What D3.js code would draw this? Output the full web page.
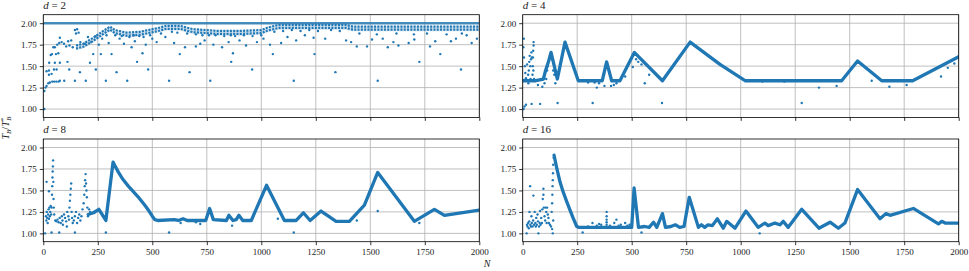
<!DOCTYPE html>
<html>
<head>
<meta charset="utf-8">
<script src="https://cdn.jsdelivr.net/npm/d3@7/dist/d3.min.js"></script>
<style>
  body { margin: 0; background: #fff; }
  text { font-family: "Liberation Serif", "DejaVu Serif", serif; fill: #222; }
</style>
</head>
<body>
<script>
const xTicks = [0, 250, 500, 750, 1000, 1250, 1500, 1750, 2000];
const yTicks = [1.00, 1.25, 1.50, 1.75, 2.00];
const dims = ['2', '4', '8', '16'];

// d = 2 : dense band near the top plus scattered points
const d2Ref = 2.0;
const d2BandN = [150, 183, 229, 275, 306, 328, 382, 443, 519, 565, 626, 687, 748, 800, 900, 1000, 1030, 1080, 1200, 1300, 1390, 1420, 1600, 1800, 2000];
const d2BandV = [1.72, 1.74, 1.81, 1.89, 1.94, 1.90, 1.87, 1.88, 1.92, 1.95, 1.95, 1.91, 1.90, 1.89, 1.89, 1.90, 1.93, 1.96, 1.96, 1.96, 1.96, 1.94, 1.94, 1.94, 1.94];
const d2Pts = [
  [5, 1.00], [5, 1.21], [10, 1.25], [15, 1.27], [23, 1.30], [30, 1.31], [41, 1.32], [50, 1.32], [60, 1.32], [70, 1.32],
  [15, 1.44], [26, 1.45], [27, 1.54], [34, 1.63], [40, 1.64], [26, 1.40], [38, 1.41], [49, 1.46], [61, 1.46], [53, 1.54],
  [58, 1.64], [69, 1.65], [76, 1.54], [76, 1.33], [96, 1.33], [111, 1.55], [119, 1.46], [145, 1.33], [168, 1.43], [195, 1.33],
  [214, 1.54], [229, 1.64], [241, 1.46], [264, 1.64], [287, 1.33], [313, 1.64], [336, 1.43], [385, 1.33], [430, 1.55], [455, 1.65],
  [481, 1.46], [577, 1.33], [626, 1.64], [671, 1.43], [766, 1.33], [862, 1.55], [870, 1.65], [958, 1.46], [1053, 1.64], [1149, 1.33],
  [1244, 1.64], [1340, 1.43], [1534, 1.33], [1725, 1.55], [1821, 1.64], [1916, 1.46],
  [46, 1.72], [53, 1.72], [64, 1.75], [73, 1.77], [76, 1.83], [84, 1.78], [95, 1.76], [105, 1.73], [114, 1.79], [120, 1.74],
  [128, 1.80], [135, 1.72], [145, 1.92], [150, 1.88], [155, 1.93], [162, 1.89], [170, 1.78], [190, 1.76], [205, 1.84], [220, 1.78],
  [240, 1.85], [255, 1.75], [270, 1.82], [290, 1.86], [300, 1.77], [350, 1.82], [370, 1.76], [405, 1.72], [420, 1.79], [470, 1.75],
  [500, 1.82], [520, 1.78], [560, 1.84], [600, 1.77], [650, 1.72], [700, 1.73], [720, 1.76], [740, 1.80], [780, 1.75], [820, 1.72],
  [850, 1.78], [900, 1.80], [930, 1.74], [980, 1.78], [1010, 1.82], [1040, 1.75], [1091, 1.77], [1120, 1.84], [1160, 1.80], [1200, 1.86],
  [1240, 1.83], [1293, 1.82], [1389, 1.80], [1412, 1.78], [1438, 1.73], [1485, 1.73], [1508, 1.81], [1557, 1.82], [1580, 1.72], [1606, 1.78],
  [1629, 1.74], [1676, 1.77], [1702, 1.81], [1774, 1.73], [1798, 1.79], [1870, 1.79], [1893, 1.82], [1942, 1.86], [1965, 1.77], [1989, 1.82],
  [1450, 1.88], [1530, 1.87], [1620, 1.88], [1700, 1.87], [1760, 1.88], [1850, 1.87], [1920, 1.88], [1000, 1.86], [880, 1.85], [760, 1.86],
  [330, 1.86], [360, 1.85], [395, 1.84], [415, 1.86], [440, 1.85], [460, 1.84], [490, 1.86], [540, 1.88], [590, 1.90], [615, 1.89],
  [660, 1.88], [700, 1.87], [730, 1.86], [790, 1.86], [830, 1.85], [860, 1.86], [920, 1.86], [960, 1.85], [1060, 1.90], [1100, 1.91],
  [1140, 1.92], [1180, 1.91], [1220, 1.92], [1260, 1.91], [1320, 1.92], [1360, 1.91]
];

// d = 4
const d4Curve = [[0, 1.33], [48, 1.33], [60, 1.33], [95, 1.35], [105, 1.45], [118, 1.55], [130, 1.66], [159, 1.35], [194, 1.78], [255, 1.33], [365, 1.33],
  [385, 1.55], [408, 1.33], [446, 1.33], [512, 1.66], [641, 1.33], [768, 1.78], [905, 1.52], [1020, 1.33], [1463, 1.33],
  [1536, 1.56], [1647, 1.33], [1789, 1.33], [2000, 1.61]];
const d4Pts = [
  [3, 1.72], [5, 1.82], [6, 1.60], [4, 1.00], [8, 1.03], [15, 1.05], [20, 1.33], [25, 1.40], [28, 1.45], [30, 1.55], [32, 1.62],
  [35, 1.50], [38, 1.58], [40, 1.66], [42, 1.60], [20, 1.52], [15, 1.36], [12, 1.42], [10, 1.50], [26, 1.30], [30, 1.33], [36, 1.35],
  [41, 1.06], [45, 1.40], [46, 1.50], [47, 1.60], [48, 1.68], [50, 1.74], [50, 1.78], [49, 1.45], [52, 1.35], [5, 1.33], [15, 1.33],
  [80, 1.06], [70, 1.28], [90, 1.26], [100, 1.30], [108, 1.35], [112, 1.45], [115, 1.50], [120, 1.56], [125, 1.62], [128, 1.64],
  [133, 1.58], [140, 1.45], [145, 1.40], [150, 1.30], [160, 1.07], [321, 1.07], [639, 1.07], [1280, 1.07], [300, 1.31], [330, 1.31],
  [350, 1.30], [340, 1.25], [375, 1.27], [405, 1.27], [418, 1.28], [430, 1.30], [470, 1.38], [505, 1.49], [520, 1.58], [530, 1.55],
  [545, 1.52], [560, 1.30], [580, 1.40], [1100, 1.32], [1200, 1.32], [1359, 1.25], [1440, 1.27], [1601, 1.33], [1682, 1.26],
  [1761, 1.28], [1919, 1.38], [1980, 1.53], [1950, 1.48]
];

// d = 8
const d8Curve = [[206, 1.22], [230, 1.24], [255, 1.28], [287, 1.15], [320, 1.83], [330, 1.78], [345, 1.71], [365, 1.63], [390, 1.55],
  [415, 1.48], [440, 1.41], [465, 1.33], [485, 1.26], [500, 1.20], [512, 1.16], [525, 1.15], [600, 1.16], [620, 1.15], [641, 1.17], [660, 1.15], [745, 1.15], [763, 1.29], [780, 1.16],
  [840, 1.15], [851, 1.21], [870, 1.15], [885, 1.16], [897, 1.21], [915, 1.15], [954, 1.15], [1024, 1.56], [1106, 1.15], [1160, 1.15],
  [1193, 1.24], [1224, 1.15], [1274, 1.26], [1343, 1.14], [1404, 1.14], [1473, 1.33], [1534, 1.71], [1702, 1.14], [1794, 1.28],
  [1840, 1.21], [2000, 1.27]];
const d8Pts = [
  [8, 1.00], [38, 1.01], [73, 1.01], [145, 1.01], [287, 1.01], [577, 1.01], [1149, 1.01], [15, 1.60], [26, 1.49], [12, 1.20],
  [14, 1.15], [16, 1.25], [18, 1.18], [20, 1.12], [22, 1.22], [24, 1.28], [26, 1.17], [28, 1.30], [30, 1.20], [32, 1.25],
  [34, 1.32], [36, 1.22], [38, 1.30], [40, 1.45], [41, 1.55], [42, 1.65], [43, 1.72], [44, 1.78], [45, 1.85], [46, 1.60],
  [47, 1.40], [48, 1.30], [50, 1.22], [55, 1.15], [60, 1.14], [65, 1.16], [70, 1.13], [75, 1.18], [80, 1.12], [85, 1.20],
  [88, 1.15], [90, 1.10], [95, 1.22], [100, 1.18], [105, 1.14], [108, 1.08], [110, 1.25], [115, 1.20], [118, 1.16], [120, 1.30],
  [122, 1.38], [124, 1.45], [126, 1.52], [128, 1.58], [130, 1.25], [132, 1.18], [135, 1.12], [140, 1.15], [145, 1.20], [150, 1.25],
  [155, 1.12], [160, 1.18], [165, 1.22], [170, 1.15], [175, 1.20], [180, 1.28], [185, 1.35], [188, 1.45], [190, 1.55], [192, 1.62],
  [194, 1.69], [196, 1.58], [198, 1.50], [200, 1.42], [202, 1.30], [205, 1.20], [210, 1.28], [215, 1.25], [630, 1.12], [700, 1.13],
  [720, 1.11], [866, 1.09], [1076, 1.17], [1438, 1.15], [1534, 1.26], [1725, 1.12]
];

// d = 16
const d16Curve = [[144, 1.91], [157, 1.75], [171, 1.60], [186, 1.48], [202, 1.37], [217, 1.27], [232, 1.175], [248, 1.08], [258, 1.07],
  [500, 1.07], [511, 1.53], [531, 1.07], [560, 1.08], [580, 1.07], [600, 1.13], [615, 1.07], [641, 1.23], [655, 1.07], [680, 1.08],
  [700, 1.10], [720, 1.07], [740, 1.08], [764, 1.42], [806, 1.07], [820, 1.10], [835, 1.07], [850, 1.10], [870, 1.09], [893, 1.17],
  [920, 1.06], [936, 1.14], [951, 1.11], [974, 1.06], [1024, 1.26], [1080, 1.07], [1111, 1.12], [1126, 1.09], [1157, 1.12],
  [1180, 1.10], [1195, 1.14], [1218, 1.07], [1280, 1.28], [1359, 1.06], [1410, 1.13], [1448, 1.06], [1478, 1.12], [1536, 1.51],
  [1639, 1.17], [1666, 1.23], [1685, 1.21], [1792, 1.29], [1907, 1.11], [1922, 1.14], [1938, 1.12], [2000, 1.12]];
const d16Pts = [
  [18, 1.00], [34, 1.55], [49, 1.44], [72, 1.00], [95, 1.52], [138, 1.00], [31, 1.25], [20, 1.10], [22, 1.08], [25, 1.12],
  [28, 1.06], [30, 1.14], [35, 1.10], [38, 1.08], [40, 1.20], [42, 1.12], [45, 1.08], [48, 1.15], [52, 1.10], [55, 1.25],
  [58, 1.12], [60, 1.08], [62, 1.18], [65, 1.10], [68, 1.22], [70, 1.14], [75, 1.08], [78, 1.12], [80, 1.26], [82, 1.10],
  [85, 1.18], [88, 1.12], [90, 1.28], [92, 1.40], [95, 1.45], [97, 1.30], [100, 1.20], [103, 1.15], [105, 1.30], [108, 1.25],
  [110, 1.12], [112, 1.30], [115, 1.22], [118, 1.18], [120, 1.12], [125, 1.10], [130, 1.08], [133, 1.25], [135, 1.35], [136, 1.45],
  [137, 1.55], [138, 1.62], [139, 1.70], [140, 1.80], [142, 1.88], [140, 1.15], [135, 1.05], [275, 1.01], [545, 1.01], [1087, 1.00],
  [320, 1.12], [350, 1.11], [385, 1.25], [385, 1.20], [385, 1.16], [385, 1.13], [385, 1.10], [420, 1.12], [430, 1.16], [450, 1.10],
  [470, 1.12], [490, 1.10], [300, 1.08], [340, 1.09], [360, 1.10], [400, 1.09], [440, 1.09], [480, 1.09]
];

const blue = '#1f77b4';
const svg = d3.select('body').append('svg').attr('width', 969).attr('height', 271);

const pw = 436, ph = 102.7;
const layout = [
  { x0: 43.3, y0: 14.7 }, { x0: 522.7, y0: 14.7 },
  { x0: 43.3, y0: 139 }, { x0: 522.7, y0: 139 }
];
const curves = [null, d4Curve, d8Curve, d16Curve];
const points = [d2Pts, d4Pts, d8Pts, d16Pts];

dims.forEach((d, i) => {
  const { x0, y0 } = layout[i];
  const x = d3.scaleLinear().domain([0, 2000]).range([x0, x0 + pw]);
  const y = d3.scaleLinear().domain([0.903, 2.099]).range([y0 + ph, y0]);
  const g = svg.append('g');

  g.append('clipPath').attr('id', 'clip' + i)
    .append('rect').attr('x', x0).attr('y', y0).attr('width', pw).attr('height', ph);

  // grid
  g.selectAll('.gx').data(xTicks).enter().append('line')
    .attr('x1', t => x(t)).attr('x2', t => x(t)).attr('y1', y0).attr('y2', y0 + ph)
    .attr('stroke', '#b0b0b0').attr('stroke-width', 0.8);
  g.selectAll('.gy').data(yTicks).enter().append('line')
    .attr('x1', x0).attr('x2', x0 + pw).attr('y1', t => y(t)).attr('y2', t => y(t))
    .attr('stroke', '#b0b0b0').attr('stroke-width', 0.8);

  const plot = g.append('g').attr('clip-path', 'url(#clip' + i + ')');

  if (i === 0) {
    const band = d2BandN.map((n, k) => [n, d2BandV[k]]);
    plot.append('line')
      .attr('x1', x(0)).attr('x2', x(2000)).attr('y1', y(d2Ref)).attr('y2', y(d2Ref))
      .attr('stroke', blue).attr('stroke-width', 2.5).attr('opacity', 0.8);
    plot.append('path').datum(band)
      .attr('d', d3.area().x(p => x(p[0])).y0(p => y(p[1] - 0.035)).y1(p => y(p[1] + 0.03)))
      .attr('fill', blue).attr('opacity', 0.22);
    // dotted rims of the dense band
    [0.02, -0.015].forEach(off => {
      plot.append('path').datum(band)
        .attr('d', d3.line().x(p => x(p[0])).y(p => y(p[1] + off)))
        .attr('fill', 'none').attr('stroke', blue).attr('stroke-width', 2.2)
        .attr('stroke-dasharray', '2 1.3');
    });
  } else {
    plot.append('path').datum(curves[i])
      .attr('d', d3.line().x(p => x(p[0])).y(p => y(p[1])))
      .attr('fill', 'none').attr('stroke', blue).attr('stroke-width', 3.3)
      .attr('stroke-linejoin', 'round').attr('stroke-linecap', 'round');
  }

  plot.selectAll('circle').data(points[i]).enter().append('circle')
    .attr('cx', p => x(p[0])).attr('cy', p => y(p[1])).attr('r', 1.2)
    .attr('fill', blue);

  // spines
  g.append('rect').attr('x', x0).attr('y', y0).attr('width', pw).attr('height', ph)
    .attr('fill', 'none').attr('stroke', '#000').attr('stroke-width', 0.8);

  const yAxis = g.append('g').attr('transform', 'translate(' + x0 + ',0)')
    .call(d3.axisLeft(y).tickValues(yTicks).tickFormat(d3.format('.2f')).tickSize(3.5).tickPadding(3));
  const xAxis = g.append('g').attr('transform', 'translate(0,' + (y0 + ph) + ')')
    .call(d3.axisBottom(x).tickValues(xTicks).tickSize(3.5).tickPadding(3)
      .tickFormat(i >= 2 ? d3.format('d') : ''));
  [yAxis, xAxis].forEach(a => {
    a.select('.domain').remove();
    a.selectAll('line').attr('stroke', '#000').attr('stroke-width', 0.8);
    a.selectAll('text').attr('font-size', 9).attr('font-family', '"Liberation Serif", serif').attr('fill', '#222');
  });

  const title = g.append('text').attr('x', x0).attr('y', y0 - 6).attr('font-size', 11);
  title.append('tspan').attr('font-style', 'italic').text('d');
  title.append('tspan').text(' = ' + d);
});

// axis labels
const yl = svg.append('text').attr('transform', 'translate(9,128) rotate(-90)')
  .attr('text-anchor', 'middle').attr('font-size', 10);
yl.append('tspan').attr('font-style', 'italic').text('T');
yl.append('tspan').attr('font-style', 'italic').attr('font-size', 7).attr('dy', 2).text('B');
yl.append('tspan').attr('dy', -2).text('/');
yl.append('tspan').attr('font-style', 'italic').text('T');
yl.append('tspan').attr('font-size', 7).attr('dy', -4).text('*');
yl.append('tspan').attr('font-style', 'italic').attr('font-size', 7).attr('dx', -3).attr('dy', 6).text('B');

svg.append('text').attr('x', 487).attr('y', 267).attr('text-anchor', 'middle')
  .attr('font-size', 10).attr('font-style', 'italic').text('N');
</script>
</body>
</html>
